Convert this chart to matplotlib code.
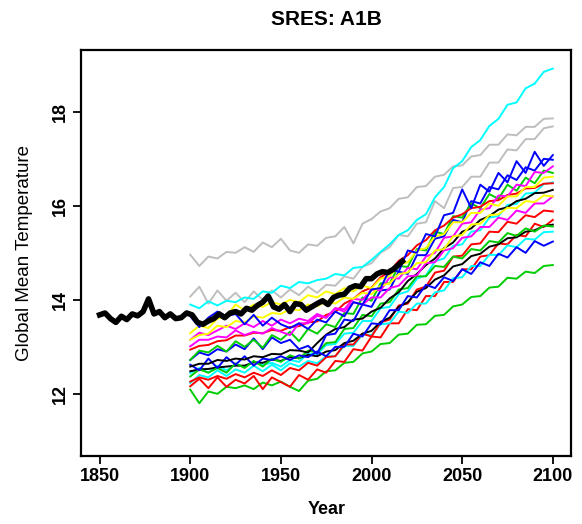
import numpy as np
import matplotlib.pyplot as plt

plt.rcParams['font.family'] = ['Liberation Sans', 'DejaVu Sans']

# model years (5 year steps) and observation years
years = list(range(1900, 2101, 5))
obs_years = [1850, 1853, 1856, 1859, 1862, 1865, 1868, 1871, 1874, 1877, 1880, 1883,
             1886, 1889, 1892, 1895, 1898, 1901, 1904, 1907, 1910, 1913, 1916, 1919,
             1922, 1925, 1928, 1931, 1934, 1937, 1940, 1943, 1946, 1949, 1952, 1955,
             1958, 1961, 1964, 1967, 1970, 1973, 1976, 1979, 1982, 1985, 1988, 1991,
             1994, 1997, 2000, 2003, 2006, 2009, 2012, 2015, 2017]
obs_temp = [13.68, 13.72, 13.60, 13.52, 13.65, 13.58, 13.70, 13.66, 13.75, 14.02, 13.70, 13.75,
            13.62, 13.70, 13.60, 13.62, 13.72, 13.68, 13.52, 13.48, 13.55, 13.60, 13.70, 13.62,
            13.72, 13.75, 13.70, 13.82, 13.78, 13.88, 13.95, 14.08, 13.85, 13.80, 13.90, 13.75,
            13.92, 13.90, 13.78, 13.85, 13.92, 13.98, 13.90, 14.05, 14.10, 14.12, 14.25, 14.30,
            14.28, 14.45, 14.45, 14.55, 14.60, 14.58, 14.65, 14.75, 14.82]

# model runs, SRES A1B
cyan_a = [13.90, 13.82, 13.97, 13.88, 13.98, 13.95, 14.05, 14.02, 14.18, 14.15, 14.30, 14.25, 14.38, 14.35,
          14.42, 14.45, 14.55, 14.52, 14.68, 14.70, 14.85, 15.02, 15.18, 15.38, 15.48, 15.70, 15.82, 16.18,
          16.40, 16.80, 16.95, 17.25, 17.40, 17.70, 17.85, 18.15, 18.20, 18.50, 18.60, 18.85, 18.92]
gray_a = [14.96, 14.72, 14.92, 14.88, 15.02, 15.00, 15.12, 15.02, 15.22, 15.12, 15.30, 15.05, 15.00, 15.18,
          15.15, 15.32, 15.35, 15.55, 15.20, 15.62, 15.72, 15.88, 15.95, 16.15, 16.18, 16.40, 16.42, 16.62,
          16.66, 16.84, 16.86, 17.05, 17.08, 17.30, 17.30, 17.52, 17.50, 17.68, 17.68, 17.85, 17.86]
gray_b = [14.07, 14.28, 13.92, 14.20, 13.98, 14.15, 13.95, 14.18, 14.00, 14.20, 14.05, 14.22, 14.10, 14.28,
          14.15, 14.32, 14.30, 14.50, 14.45, 14.70, 14.78, 15.00, 15.12, 15.38, 15.35, 15.62, 15.65, 16.10,
          15.95, 16.38, 16.40, 16.62, 16.62, 16.92, 16.92, 17.20, 17.18, 17.42, 17.42, 17.65, 17.69]
blue_a = [13.65, 13.42, 13.62, 13.75, 13.65, 13.70, 13.48, 13.68, 13.45, 13.62, 13.48, 13.40, 13.50, 13.38,
          13.58, 13.52, 13.75, 13.65, 13.95, 13.90, 14.22, 14.25, 14.65, 14.60, 15.05, 15.00, 15.40, 15.35,
          15.80, 15.85, 16.35, 15.95, 16.45, 16.30, 16.70, 16.50, 16.95, 16.70, 17.15, 16.85, 17.08]
yellow_a = [13.29, 13.45, 13.40, 13.60, 13.65, 13.90, 13.78, 13.90, 13.85, 13.95, 13.90, 14.00, 13.95, 14.10,
            14.05, 14.18, 14.12, 14.25, 14.18, 14.30, 14.25, 14.45, 14.50, 14.75, 14.80, 15.05, 15.10, 15.35,
            15.40, 15.65, 15.65, 15.85, 15.85, 16.05, 16.00, 16.20, 16.20, 16.40, 16.40, 16.60, 16.62]
yellow_b = [13.15, 13.25, 13.28, 13.45, 13.42, 13.55, 13.52, 13.65, 13.62, 13.72, 13.70, 13.80, 13.78, 13.90,
            13.86, 13.97, 13.92, 14.05, 14.02, 14.15, 14.12, 14.30, 14.35, 14.55, 14.58, 14.78, 14.80, 15.05,
            15.08, 15.35, 15.38, 15.60, 15.62, 15.80, 15.82, 15.96, 15.95, 16.10, 16.08, 16.22, 16.20]
magenta_a = [13.15, 13.30, 13.25, 13.35, 13.45, 13.38, 13.50, 13.42, 13.55, 13.45, 13.58, 13.50, 13.60, 13.55,
             13.70, 13.62, 13.82, 13.80, 14.02, 14.00, 14.22, 14.20, 14.48, 14.45, 14.68, 14.65, 14.92, 15.00,
             15.32, 15.35, 15.62, 15.65, 15.92, 15.95, 16.22, 16.20, 16.45, 16.42, 16.72, 16.70, 16.84]
magenta_b = [13.01, 13.15, 13.15, 13.22, 13.20, 13.35, 13.25, 13.32, 13.28, 13.40, 13.32, 13.25, 13.50, 13.50,
             13.66, 13.62, 13.82, 13.75, 13.95, 13.90, 14.05, 14.05, 14.25, 14.30, 14.50, 14.52, 14.78, 14.80,
             15.05, 15.10, 15.32, 15.35, 15.55, 15.55, 15.75, 15.70, 15.90, 15.85, 16.05, 16.05, 16.20]
red_a = [12.94, 13.02, 13.04, 13.12, 13.14, 13.24, 13.24, 13.30, 13.29, 13.36, 13.34, 13.42, 13.44, 13.52,
         13.54, 13.68, 13.74, 13.92, 14.02, 14.18, 14.26, 14.48, 14.60, 14.83, 14.95, 15.16, 15.27, 15.48,
         15.58, 15.75, 15.82, 15.95, 15.98, 16.10, 16.12, 16.23, 16.26, 16.37, 16.38, 16.47, 16.48]
green_a = [12.72, 12.92, 12.88, 13.02, 12.90, 13.12, 13.00, 13.15, 12.98, 13.25, 13.15, 13.32, 13.12, 13.38,
           13.28, 13.48, 13.42, 13.72, 13.70, 14.05, 13.98, 14.35, 14.35, 14.72, 14.70, 15.08, 15.05, 15.45,
           15.40, 15.78, 15.75, 16.05, 15.95, 16.25, 16.15, 16.45, 16.32, 16.60, 16.48, 16.75, 16.70]
blue_b = [12.72, 12.88, 12.82, 12.95, 12.90, 13.05, 12.95, 13.18, 12.95, 13.20, 13.08, 13.15, 12.95, 13.02,
          12.85, 13.25, 13.28, 13.58, 13.55, 13.90, 13.85, 14.20, 14.22, 14.60, 14.55, 14.95, 14.95, 15.30,
          15.35, 15.70, 15.65, 16.10, 16.05, 16.40, 16.35, 16.65, 16.55, 16.82, 16.75, 17.00, 16.98]
black_a = [12.58, 12.64, 12.64, 12.72, 12.70, 12.75, 12.73, 12.80, 12.78, 12.85, 12.84, 12.93, 12.92, 12.88,
           13.08, 13.26, 13.38, 13.42, 13.58, 13.60, 13.75, 13.83, 14.03, 14.16, 14.40, 14.55, 14.74, 14.88,
           15.10, 15.22, 15.45, 15.52, 15.70, 15.78, 15.92, 15.97, 16.10, 16.15, 16.27, 16.28, 16.34]
blue_c = [12.62, 12.50, 12.75, 12.55, 12.78, 12.62, 12.80, 12.60, 12.75, 12.72, 12.80, 12.72, 12.82, 12.78,
          12.90, 12.80, 13.00, 13.00, 13.28, 13.22, 13.50, 13.48, 13.78, 13.78, 14.08, 14.05, 14.32, 14.25,
          14.48, 14.40, 14.65, 14.55, 14.80, 14.72, 14.98, 14.90, 15.12, 15.00, 15.25, 15.15, 15.24]
green_b = [12.37, 12.52, 12.45, 12.55, 12.45, 12.65, 12.55, 12.70, 12.58, 12.75, 12.68, 12.82, 12.75, 12.92,
           12.88, 13.08, 13.10, 13.38, 13.40, 13.68, 13.65, 13.92, 13.95, 14.22, 14.25, 14.50, 14.50, 14.72,
           14.70, 14.92, 14.88, 15.08, 15.05, 15.25, 15.22, 15.42, 15.36, 15.52, 15.45, 15.58, 15.56]
black_b = [12.48, 12.52, 12.53, 12.56, 12.58, 12.60, 12.60, 12.67, 12.66, 12.73, 12.70, 12.78, 12.76, 12.83,
           12.80, 12.90, 12.93, 13.08, 13.13, 13.28, 13.34, 13.53, 13.62, 13.85, 13.95, 14.17, 14.25, 14.43,
           14.52, 14.71, 14.76, 14.93, 14.98, 15.13, 15.18, 15.31, 15.33, 15.45, 15.48, 15.57, 15.60]
cyan_b = [12.44, 12.55, 12.45, 12.60, 12.50, 12.62, 12.58, 12.68, 12.62, 12.66, 12.58, 12.72, 12.68, 12.86,
          12.84, 13.04, 13.06, 13.28, 13.30, 13.55, 13.55, 13.82, 13.85, 14.12, 14.18, 14.45, 14.52, 14.82,
          14.88, 15.15, 15.18, 15.45, 15.48, 15.75, 15.78, 16.02, 16.04, 16.26, 16.28, 16.46, 16.50]
red_b = [12.26, 12.35, 12.30, 12.38, 12.32, 12.42, 12.35, 12.45, 12.38, 12.50, 12.40, 12.55, 12.50, 12.66,
         12.60, 12.78, 12.80, 13.05, 13.05, 13.28, 13.22, 13.52, 13.58, 13.88, 13.92, 14.22, 14.28, 14.58,
         14.62, 14.92, 14.94, 15.18, 15.20, 15.45, 15.44, 15.66, 15.62, 15.80, 15.76, 15.90, 15.88]
red_c = [12.16, 12.32, 12.12, 12.35, 12.15, 12.30, 12.22, 12.38, 12.10, 12.35, 12.25, 12.15, 12.40, 12.30,
         12.52, 12.45, 12.70, 12.68, 12.95, 12.92, 13.22, 13.20, 13.50, 13.50, 13.80, 13.78, 14.08, 14.08,
         14.38, 14.38, 14.65, 14.65, 14.92, 14.95, 15.20, 15.18, 15.38, 15.35, 15.62, 15.55, 15.70]
cyan_c = [12.23, 12.40, 12.35, 12.50, 12.38, 12.52, 12.45, 12.60, 12.48, 12.62, 12.50, 12.65, 12.58, 12.70,
          12.65, 12.80, 12.80, 13.02, 13.02, 13.26, 13.25, 13.48, 13.50, 13.75, 13.72, 13.92, 13.92, 14.16,
          14.20, 14.46, 14.48, 14.72, 14.72, 14.96, 14.95, 15.16, 15.12, 15.30, 15.28, 15.44, 15.45]
green_c = [12.09, 11.80, 12.05, 12.00, 12.15, 12.12, 12.18, 12.10, 12.24, 12.18, 12.26, 12.15, 12.06, 12.28,
           12.32, 12.48, 12.50, 12.66, 12.68, 12.86, 12.90, 13.06, 13.08, 13.26, 13.28, 13.47, 13.48, 13.66,
           13.68, 13.86, 13.90, 14.06, 14.08, 14.26, 14.28, 14.47, 14.45, 14.60, 14.57, 14.72, 14.74]

# R default palette
rblack, rred, rgreen, rblue = '#000000', '#FF0000', '#00CD00', '#0000FF'
rcyan, rmagenta, ryellow, rgray = '#00FFFF', '#FF00FF', '#FFFF00', '#BEBEBE'

models = [(gray_a, rgray), (gray_b, rgray), (cyan_a, rcyan), (green_c, rgreen),
          (red_c, rred), (cyan_c, rcyan), (red_b, rred), (cyan_b, rcyan),
          (black_b, rblack), (green_b, rgreen), (blue_c, rblue), (black_a, rblack),
          (blue_b, rblue), (green_a, rgreen), (red_a, rred), (magenta_b, rmagenta),
          (magenta_a, rmagenta), (yellow_b, ryellow), (yellow_a, ryellow), (blue_a, rblue)]

fig = plt.figure(figsize=(5.82, 5.24), dpi=100)
ax = fig.add_axes([0.140, 0.130, 0.841, 0.775])

for vals, col in models:
    ax.plot(years, vals, color=col, lw=1.4)
ax.plot(obs_years, obs_temp, color='black', lw=4.0, solid_joinstyle='round')

ax.set_xlim(1840, 2110)
ax.set_ylim(10.68, 19.32)
ax.set_xticks([1850, 1900, 1950, 2000, 2050, 2100])
ax.set_yticks([12, 14, 16, 18])
ax.tick_params(direction='out', length=6, width=1.3, labelsize=13, pad=3)
for lab in ax.get_xticklabels():
    lab.set_fontweight('bold')
for lab in ax.get_yticklabels():
    lab.set_fontweight('bold')
    lab.set_rotation(90)
    lab.set_va('center')
for s in ax.spines.values():
    s.set_linewidth(1.6)

ax.set_xlabel('Year', fontsize=13, fontweight='bold', labelpad=11)
ax.set_ylabel('Global Mean Temperature', fontsize=13.5, labelpad=14)
ax.set_title('SRES: A1B', fontsize=15, fontweight='bold', pad=18)

fig.savefig('out.png', dpi=100)
